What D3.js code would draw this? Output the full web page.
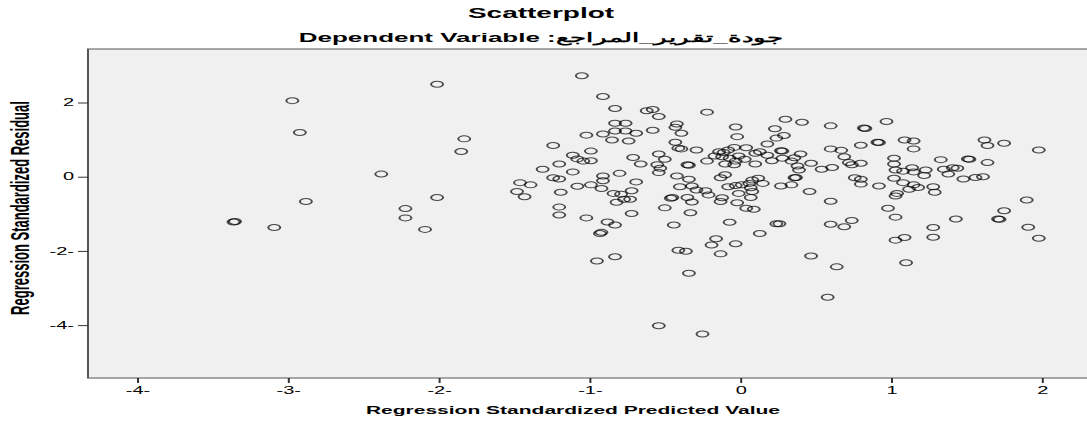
<!DOCTYPE html>
<html>
<head>
<meta charset="utf-8">
<script src="https://cdn.jsdelivr.net/npm/d3@7"></script>
<style>
  html, body { margin: 0; padding: 0; background: #ffffff; }
  svg { display: block; }
  text { font-family: Arial, "Liberation Sans", sans-serif; fill: #000; }
</style>
</head>
<body>
<svg id="chart" width="1087" height="423"></svg>
<script>
// Regression standardized predicted values (x) and standardized residuals (y)
const predicted = [
  -2.97, -2.92, -2.38, -2.88, -2.22, -2.22, -3.36, -3.35, -3.09, -2.09,
  -2.01, -1.83, -1.85, -2.01, -1.46, -1.39, -1.48, -1.43,
  -1.05, -0.91, -0.83, -0.62, -0.58, -0.54, -0.22, -0.83, -0.76, -1.02,
  -0.91, -0.83, -0.76, -0.85, -0.74, -0.69, -0.58, -0.42, -0.43, -0.39,
  -0.43, -0.41, -0.39, -0.29, -0.22, -1.24, -0.99, -1.11, -1.08, -1.04,
  -0.99, -1.20, -1.31, -1.24, -1.20, -1.11, -1.08, -0.99, -1.19, -0.92,
  -0.91, -0.91, -0.80, -0.71, -0.66, -0.54, -0.55, -0.53, -0.54, -0.50,
  -0.69, -0.84, -0.79, -0.72, -0.82, -0.77, -0.73, -1.20, -1.20, -1.02,
  -0.88, -0.83, -0.93, -0.92, -0.83, -0.95, -0.72, -0.50, -0.46, -0.45,
  -0.35, -0.34, -0.42, -0.34, -0.40, -0.32, -0.29, -0.23, -0.21, -0.35,
  -0.32, -0.33, -0.44, -0.41, -0.36, -0.19, -0.34, -0.54, -0.25,
  0.30, 0.41, 0.60, 0.83, 0.82, 0.97, -0.03, -0.02, 0.23, 0.29,
  0.24, 0.18, 0.91, 0.92, 0.80, 0.60, 0.67, 0.69, 0.72, 0.74,
  0.80, 0.28, 0.27, 0.40, 0.36, -0.17, -0.14, -0.11, -0.08, -0.04,
  0.04, 0.10, 0.13, 0.18, -0.12, -0.07, -0.01, 0.21, 0.28, 0.38,
  0.39, 0.47, 0.34, 0.54, 0.61, -0.10, -0.04, -0.03, 0.03, 0.10,
  0.36, 0.37, 0.34, 0.27, 0.46, 0.76, 0.80, 0.80, 0.92, -0.13,
  -0.10, -0.08, -0.03, 0.01, 0.06, 0.08, 0.12, 0.07, 0.15, 0.08,
  0.07, -0.01, -0.12, -0.13, -0.02, 0.04, 0.09, 0.60, -0.07, 0.24,
  0.26, 0.13, 0.60, 0.69, 0.74, -0.03, -0.13, 0.47, 0.98, -0.16,
  0.64, 0.58,
  1.09, 1.15, 1.15, 1.62, 1.64, 1.75, 1.98, 1.33, 1.52, 1.51,
  1.64, 1.02, 1.02, 1.03, 1.08, 1.14, 1.15, 1.23, 1.22, 1.35,
  1.41, 1.44, 1.38, 1.48, 1.56, 1.61, 1.02, 1.08, 1.15, 1.18,
  1.12, 1.04, 1.03, 1.28, 1.29, 1.03, 1.43, 1.28, 1.28, 1.03,
  1.09, 1.90, 1.75, 1.72, 1.71, 1.91, 1.98, 1.10
];

const residual = [
  2.05, 1.19, 0.07, -0.67, -0.86, -1.11, -1.22, -1.21, -1.37, -1.42,
  2.49, 1.02, 0.68, -0.56, -0.16, -0.22, -0.40, -0.54,
  2.72, 2.16, 1.84, 1.78, 1.81, 1.62, 1.74, 1.44, 1.44, 1.12,
  1.15, 1.23, 1.23, 0.99, 0.96, 1.17, 1.25, 1.42, 1.33, 1.17,
  0.93, 0.77, 0.75, 0.72, 0.42, 0.84, 0.69, 0.58, 0.48, 0.42,
  0.43, 0.34, 0.20, -0.03, -0.06, 0.13, -0.26, -0.22, -0.42, -0.32,
  0.02, -0.11, 0.09, 0.52, 0.34, 0.61, 0.32, 0.23, 0.11, 0.47,
  -0.14, -0.45, -0.47, -0.38, -0.69, -0.61, -0.61, -0.82, -1.03, -1.11,
  -1.22, -1.30, -1.53, -1.50, -2.16, -2.27, -0.99, -0.84, -0.58, -0.56,
  0.32, 0.31, 0.02, -0.07, -0.27, -0.25, -0.36, -0.38, -0.49, -0.56,
  -0.68, -0.97, -1.30, -1.98, -2.01, -1.84, -2.60, -4.02, -4.24,
  1.55, 1.47, 1.37, 1.30, 1.31, 1.49, 1.34, 1.08, 1.29, 1.11,
  1.04, 0.88, 0.93, 0.92, 0.85, 0.75, 0.71, 0.54, 0.38, 0.32,
  0.36, 0.69, 0.70, 0.61, 0.51, 0.56, 0.67, 0.65, 0.72, 0.79,
  0.78, 0.63, 0.67, 0.58, 0.54, 0.50, 0.56, 0.43, 0.50, 0.29,
  0.18, 0.36, 0.42, 0.20, 0.25, 0.34, 0.32, 0.42, 0.47, 0.34,
  -0.03, -0.02, -0.22, -0.25, -0.40, -0.03, -0.07, -0.20, -0.25, -0.03,
  0.05, -0.27, -0.24, -0.22, -0.18, -0.09, -0.04, -0.30, -0.18, -0.40,
  -0.56, -0.45, -0.57, -0.67, -0.70, -0.85, -0.88, -0.66, -1.23, -1.27,
  -1.27, -1.53, -1.28, -1.35, -1.18, -1.81, -2.08, -2.14, -0.85, -1.67,
  -2.43, -3.25,
  0.99, 0.96, 0.75, 0.99, 0.84, 0.90, 0.72, 0.46, 0.47, 0.48,
  0.38, 0.50, 0.34, 0.18, 0.15, 0.24, 0.13, 0.18, 0.03, 0.20,
  0.24, 0.23, 0.07, -0.06, -0.02, 0.00, -0.04, -0.16, -0.22, -0.29,
  -0.34, -0.45, -0.52, -0.27, -0.42, -1.09, -1.14, -1.37, -1.63, -1.71,
  -1.64, -0.63, -0.92, -1.15, -1.14, -1.36, -1.66, -2.32
];

const xTickValues = [-4, -3, -2, -1, 0, 1, 2];
const xTickLabels = ["-4-", "-3-", "-2-", "-1-", "0", "1", "2"];
const yTickValues = [2, 0, -2, -4];
const yTickLabels = ["2", "0", "-2-", "-4-"];

const titleText = "Scatterplot";
const subtitleText = "Dependent Variable :جودة_تقرير_المراجع";
const xTitle = "Regression Standardized Predicted Value";
const yTitle = "Regression Standardized Residual";

// The chart is laid out in a half-width coordinate space and stretched
// horizontally to fill the page, so glyphs and markers come out wide.
const W = 1087, H = 423, SX = 2;
const iw = W / SX;
const svg = d3.select("#chart")
  .attr("viewBox", `0 0 ${iw} ${H}`)
  .attr("preserveAspectRatio", "none");

const frame = { left: 44, top: 49, bottom: 378, right: iw + 4 };

const x = d3.scaleLinear().domain([-4, 2]).range([68.5, 520.9]);
const y = d3.scaleLinear().domain([2, -4]).range([102.5, 325.1]);

// plot background + frame
svg.append("rect")
  .attr("x", frame.left).attr("y", frame.top)
  .attr("width", frame.right - frame.left).attr("height", frame.bottom - frame.top)
  .attr("fill", "#f0f0f0")
  .attr("stroke", "#555").attr("stroke-width", 1);

// axes
const xAxis = svg.append("g")
  .attr("transform", `translate(0,${frame.bottom})`)
  .call(d3.axisBottom(x).tickValues(xTickValues)
    .tickFormat((d, i) => xTickLabels[i]).tickSize(5).tickPadding(4));
const yAxis = svg.append("g")
  .attr("transform", `translate(${frame.left},0)`)
  .call(d3.axisLeft(y).tickValues(yTickValues)
    .tickFormat((d, i) => yTickLabels[i]).tickSize(5).tickPadding(2));

[xAxis, yAxis].forEach(g => {
  g.select(".domain").remove();
  g.selectAll(".tick line").attr("stroke", "#333").attr("stroke-width", 1);
  g.selectAll(".tick text")
    .attr("font-family", "Arial, 'Liberation Sans', sans-serif")
    .attr("font-size", 10).attr("fill", "#222");
});

// points
const points = predicted.map((p, i) => ({ p, r: residual[i] }));
svg.append("g")
  .selectAll("circle")
  .data(points)
  .join("circle")
  .attr("cx", d => x(d.p))
  .attr("cy", d => y(d.r))
  .attr("r", 3)
  .attr("fill", "none")
  .attr("stroke", "#000")
  .attr("stroke-opacity", 0.7)
  .attr("stroke-width", 1);

// titles
svg.append("text")
  .attr("x", 270.5).attr("y", 18)
  .attr("text-anchor", "middle")
  .attr("font-size", 14).attr("font-weight", "bold")
  .text(titleText);

svg.append("text")
  .attr("x", 270.5).attr("y", 42)
  .attr("text-anchor", "middle")
  .attr("font-size", 13).attr("font-weight", "bold")
  .attr("direction", "ltr")
  .text(subtitleText);

svg.append("text")
  .attr("x", 286.5).attr("y", 414)
  .attr("text-anchor", "middle")
  .attr("font-size", 10.5).attr("font-weight", "bold")
  .text(xTitle);

svg.append("text")
  .attr("transform", `translate(10,208) rotate(-90)`)
  .attr("text-anchor", "middle")
  .attr("dominant-baseline", "central")
  .attr("font-size", 13).attr("font-weight", "bold")
  .text(yTitle);
</script>
</body>
</html>
